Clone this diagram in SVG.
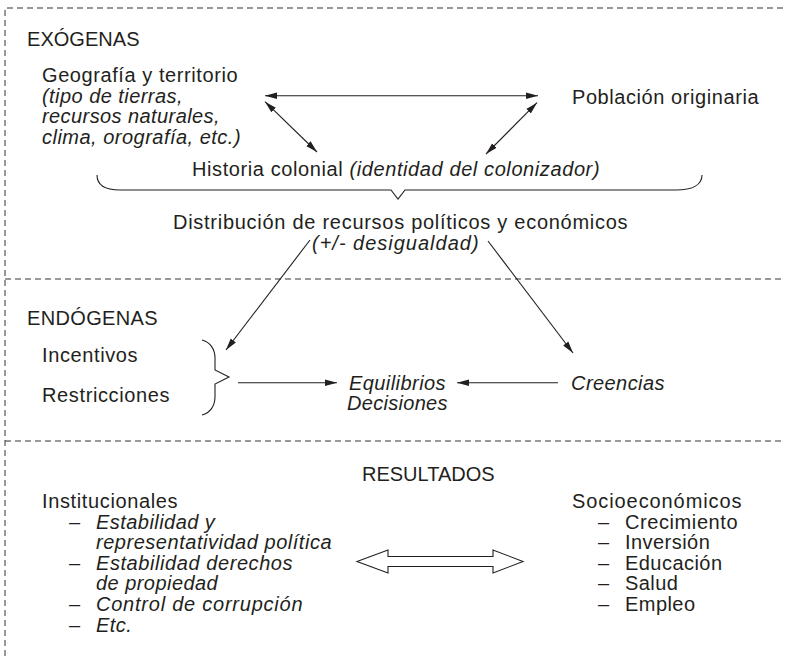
<svg xmlns="http://www.w3.org/2000/svg" width="785" height="656" viewBox="0 0 785 656">
  <defs>
    <style>
      text { font-family: "Liberation Sans", Arial, Helvetica, sans-serif; font-size: 20px; fill: #231f20; letter-spacing: 0.45px; }
      .it { font-style: italic; }
      .frame { fill: none; stroke: #333; stroke-width: 1; stroke-dasharray: 6 4; }
      .conn { fill: none; stroke: #231f20; stroke-width: 1.1; }
      .brace { fill: none; stroke: #231f20; stroke-width: 1.1; }
      .hollow { fill: #fff; stroke: #231f20; stroke-width: 1.1; stroke-linejoin: miter; }
    </style>
    <marker id="head" viewBox="0 0 12 8" refX="12" refY="4" markerWidth="12" markerHeight="8" markerUnits="userSpaceOnUse" orient="auto-start-reverse">
      <path d="M0,0.8 L12,4 L0,7.2 Z" fill="#231f20"/>
    </marker>
  </defs>

  <!-- section frame -->
  <g id="frame">
    <path class="frame" d="M5,656 V8 H785"/>
    <path class="frame" d="M5,279 H785"/>
    <path class="frame" d="M5,441 H785"/>
  </g>

  <!-- exogenous block -->
  <g id="exogenas">
    <text x="27" y="46" textLength="113">EXÓGENAS</text>
  </g>
  <g id="geografia">
    <text x="42" y="82" textLength="196">Geografía y territorio</text>
    <text class="it" x="42" y="102.5" textLength="141">(tipo de tierras,</text>
    <text class="it" x="42" y="123" textLength="178">recursos naturales,</text>
    <text class="it" x="42" y="143.5" textLength="199">clima, orografía, etc.)</text>
  </g>
  <g id="poblacion">
    <text x="572" y="104" textLength="187">Población originaria</text>
  </g>
  <g id="historia">
    <text x="192" y="176" textLength="408">Historia colonial <tspan class="it">(identidad del colonizador)</tspan></text>
  </g>
  <g id="brace-top">
    <path class="brace" d="M97,175 C97,185 105,190 120,190 L391,190 L398,199 L405,190 L676,190 C692,190 702,185 702,175"/>
  </g>
  <g id="distribucion">
    <text x="173" y="228.5" textLength="455">Distribución de recursos políticos y económicos</text>
    <text class="it" x="312" y="249.5" textLength="167">(+/- desigualdad)</text>
  </g>

  <!-- endogenous block -->
  <g id="endogenas">
    <text x="27" y="325" textLength="131">ENDÓGENAS</text>
  </g>
  <g id="incentivos">
    <text x="42" y="362" textLength="96">Incentivos</text>
    <text x="42" y="402" textLength="128">Restricciones</text>
    <path class="brace" d="M202,340 C210,342 215,349 215,358 L215,370 L229,377 L215,384 L215,397 C215,406 210,413 202,415"/>
  </g>
  <g id="equilibrios">
    <text class="it" x="349" y="389.5" textLength="97">Equilibrios</text>
    <text class="it" x="347" y="410" textLength="101">Decisiones</text>
  </g>
  <g id="creencias">
    <text class="it" x="571" y="389.5" textLength="94">Creencias</text>
  </g>

  <!-- results block -->
  <g id="resultados">
    <text x="362" y="481" textLength="133">RESULTADOS</text>
  </g>
  <g id="institucionales">
    <text x="42" y="508" textLength="136">Institucionales</text>
    <text y="528.6"><tspan x="69">–</tspan><tspan class="it" x="96">Estabilidad y</tspan></text>
    <text class="it" x="96" y="549.2" textLength="236">representatividad política</text>
    <text y="569.8"><tspan x="69">–</tspan><tspan class="it" x="96" textLength="197">Estabilidad derechos</tspan></text>
    <text class="it" x="96" y="590.4">de propiedad</text>
    <text y="611"><tspan x="69">–</tspan><tspan class="it" x="96" textLength="207">Control de corrupción</tspan></text>
    <text y="631.6"><tspan x="69">–</tspan><tspan class="it" x="96">Etc.</tspan></text>
  </g>
  <g id="socioeconomicos">
    <text x="572" y="508" textLength="170">Socioeconómicos</text>
    <text y="528.6"><tspan x="598">–</tspan><tspan x="625" textLength="113">Crecimiento</tspan></text>
    <text y="549.2"><tspan x="598">–</tspan><tspan x="625">Inversión</tspan></text>
    <text y="569.8"><tspan x="598">–</tspan><tspan x="625">Educación</tspan></text>
    <text y="590.4"><tspan x="598">–</tspan><tspan x="625">Salud</tspan></text>
    <text y="611"><tspan x="598">–</tspan><tspan x="625">Empleo</tspan></text>
  </g>

  <!-- connectors -->
  <g id="connectors">
    <line class="conn" x1="265" y1="95.7" x2="538" y2="95.7" marker-start="url(#head)" marker-end="url(#head)"/>
    <line class="conn" x1="265" y1="101.7" x2="317" y2="152" marker-start="url(#head)" marker-end="url(#head)"/>
    <line class="conn" x1="537" y1="102.7" x2="486" y2="154" marker-start="url(#head)" marker-end="url(#head)"/>
    <line class="conn" x1="310" y1="240" x2="226" y2="350" marker-end="url(#head)"/>
    <line class="conn" x1="488" y1="241" x2="573" y2="353" marker-end="url(#head)"/>
    <line class="conn" x1="238" y1="382.7" x2="337" y2="382.7" marker-end="url(#head)"/>
    <line class="conn" x1="558" y1="382.7" x2="457" y2="382.7" marker-end="url(#head)"/>
    <polygon class="hollow" points="357,561.5 388,550 388,556.5 493,556.5 493,550 523,561.5 493,573 493,566.5 388,566.5 388,573"/>
  </g>
</svg>
